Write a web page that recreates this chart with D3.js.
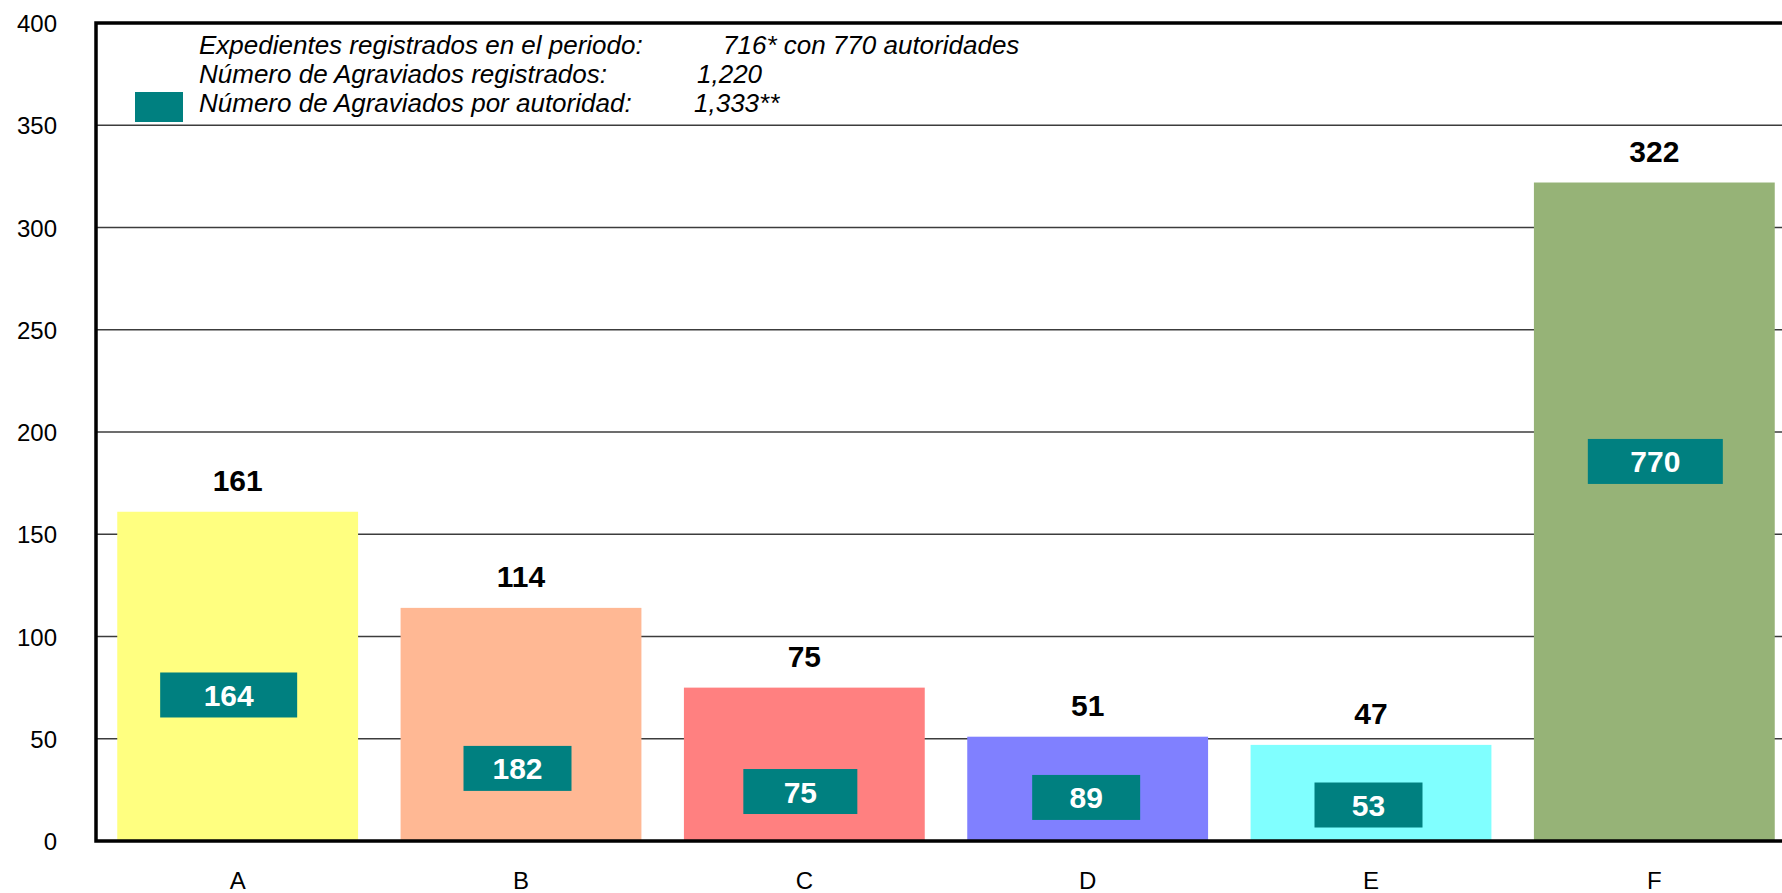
<!DOCTYPE html>
<html>
<head>
<meta charset="utf-8">
<script src="https://cdn.jsdelivr.net/npm/d3@7"></script>
<style>
  body { margin: 0; background: #fff; }
  svg { display: block; font-family: "Liberation Sans", Arial, sans-serif; }
</style>
</head>
<body>
<svg width="1782" height="893"></svg>
<script>
// data
const categories = ["A", "B", "C", "D", "E", "F"];
const expedientes = [161, 114, 75, 51, 47, 322];
const agraviados = [164, 182, 75, 89, 53, 770];
const barColors = ["#ffff80", "#ffb894", "#ff8080", "#8080ff", "#80ffff", "#96b377"];
const yTicks = [0, 50, 100, 150, 200, 250, 300, 350, 400];

const legendLabels = [
  "Expedientes registrados en el periodo:",
  "Número de Agraviados registrados:",
  "Número de Agraviados por autoridad:"
];
const legendValues = ["716* con 770 autoridades", "1,220", "1,333**"];

// where the teal boxes sit (value units) and how wide they are
const boxMid = [71.4, 35.5, 24.2, 21.3, 17.6, 185.6];
const boxWidth = [137, 108, 114, 108, 108, 135];
const boxShift = [-9, -3.5, -4, -1.5, -2.5, 1];

let margin = {top: 23, left: 96, bottom: 841, right: 1796};
let teal = "#008080";

const svg = d3.select("svg");

const x = d3.scaleBand()
  .domain(categories)
  .range([margin.left, margin.right])
  .paddingInner(0.15)
  .paddingOuter(0.075);

const y = d3.scaleLinear()
  .domain([0, 400])
  .range([margin.bottom, margin.top]);

// gridlines
svg.append("g")
  .selectAll("line")
  .data(yTicks.filter(d => d > 0 && d < 400))
  .join("line")
  .attr("x1", margin.left)
  .attr("x2", 1782)
  .attr("y1", d => y(d))
  .attr("y2", d => y(d))
  .attr("stroke", "#3c3c3c")
  .attr("stroke-width", 1.3);

// y axis labels
svg.append("g")
  .selectAll("text")
  .data(yTicks)
  .join("text")
  .attr("x", 57)
  .attr("y", d => y(d) + 9)
  .attr("text-anchor", "end")
  .attr("font-size", 24)
  .text(d => d);

// bars
svg.append("g")
  .selectAll("rect")
  .data(expedientes)
  .join("rect")
  .attr("x", (d, i) => x(categories[i]))
  .attr("width", x.bandwidth())
  .attr("y", d => y(d))
  .attr("height", d => y(0) - y(d))
  .attr("fill", (d, i) => barColors[i]);

// value labels above bars
svg.append("g")
  .selectAll("text")
  .data(expedientes)
  .join("text")
  .attr("x", (d, i) => x(categories[i]) + x.bandwidth() / 2)
  .attr("y", d => y(d) - 21)
  .attr("text-anchor", "middle")
  .attr("font-size", 30)
  .attr("font-weight", "bold")
  .text(d => d);

// teal boxes with agraviados
let boxes = svg.append("g")
  .selectAll("g")
  .data(agraviados)
  .join("g")
  .attr("transform", (d, i) =>
    "translate(" + (x(categories[i]) + x.bandwidth() / 2 + boxShift[i]) + "," + y(boxMid[i]) + ")");

boxes.append("rect")
  .attr("x", (d, i) => -boxWidth[i] / 2)
  .attr("y", -22.5)
  .attr("width", (d, i) => boxWidth[i])
  .attr("height", 45)
  .attr("fill", teal);

boxes.append("text")
  .attr("y", 11)
  .attr("text-anchor", "middle")
  .attr("font-size", 30)
  .attr("font-weight", "bold")
  .attr("fill", "#fff")
  .text(d => d);

// x labels
svg.append("g")
  .selectAll("text")
  .data(categories)
  .join("text")
  .attr("x", d => x(d) + x.bandwidth() / 2)
  .attr("y", 889)
  .attr("text-anchor", "middle")
  .attr("font-size", 24)
  .text(d => d);

// frame: top, left, bottom
svg.append("path")
  .attr("d", `M1782 ${margin.top} H ${margin.left} V ${margin.bottom} H 1782`)
  .attr("fill", "none")
  .attr("stroke", "#000")
  .attr("stroke-width", 3.5);

// legend block
let legendY = [54, 83, 112];
let valueX = [723, 697, 694];

svg.append("g")
  .selectAll("text")
  .data(legendLabels)
  .join("text")
  .attr("x", 199)
  .attr("y", (d, i) => legendY[i])
  .attr("font-size", 26)
  .attr("font-style", "italic")
  .text(d => d);

svg.append("g")
  .selectAll("text")
  .data(legendValues)
  .join("text")
  .attr("x", (d, i) => valueX[i])
  .attr("y", (d, i) => legendY[i])
  .attr("font-size", 26)
  .attr("font-style", "italic")
  .text(d => d);

svg.append("rect")
  .attr("x", 135)
  .attr("y", 92)
  .attr("width", 48)
  .attr("height", 30)
  .attr("fill", teal);
</script>
</body>
</html>
